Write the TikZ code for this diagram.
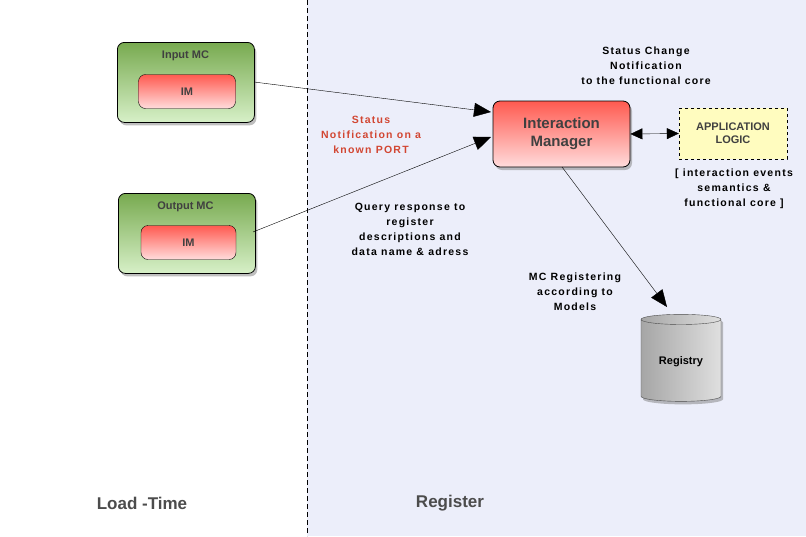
\documentclass[tikz,border=0pt]{standalone}
\usepackage{fontspec}
\setmainfont{Liberation Sans}
\newfontfamily\spaced[LetterSpace=12]{Liberation Sans}
\usetikzlibrary{shapes.geometric,arrows.meta,shadows}
\definecolor{lav}{RGB}{236,238,250}
\definecolor{gtop}{RGB}{120,170,80}
\definecolor{gbot}{RGB}{215,240,200}
\definecolor{rtop}{RGB}{255,90,80}
\definecolor{rbot}{RGB}{255,220,220}
\definecolor{redtxt}{RGB}{210,70,50}
\tikzset{
 mc/.style={draw,thick,rounded corners=7pt,top color=gtop,bottom color=gbot,drop shadow={opacity=0.5,shadow xshift=2pt,shadow yshift=-3pt},minimum width=137pt,minimum height=80pt,anchor=north west},
 im/.style={draw,rounded corners=7pt,top color=rtop,bottom color=rbot,font=\bfseries\fontsize{11}{13}\selectfont,text=black!75},
 lbl/.style={font=\spaced\bfseries\fontsize{10.5}{15}\selectfont,align=center,inner sep=0pt},
 arr/.style={-{Triangle[length=17pt,width=14pt]}}
}
\begin{document}
\begin{tikzpicture}[x=1pt,y=-1pt]
\fill[white] (0,0) rectangle (307,536);
\fill[lav] (307,0) rectangle (806,536);
\useasboundingbox (0,0) rectangle (806,536);
\draw[thick,dash pattern=on 5pt off 3pt] (307,0) -- (307,536);
\node[mc] (in) at (117,42) {};
\node[font=\bfseries\fontsize{11}{13}\selectfont,text=black!75] at (185.5,56) {Input MC};
\node[im,minimum width=97pt,minimum height=34pt] (imi) at (187,91.5) {IM};
\node[mc] (out) at (118,193) {};
\node[font=\bfseries\fontsize{11}{13}\selectfont,text=black!75] at (185.5,207) {Output MC};
\node[im,minimum width=95pt,minimum height=34pt] (imo) at (188.5,242.5) {IM};
\node[im,thick,font=\bfseries\fontsize{15}{18}\selectfont,minimum width=137pt,minimum height=66pt,align=center,drop shadow={opacity=0.5,shadow xshift=2pt,shadow yshift=-3pt}] (mgr) at (561.5,134) {Interaction\\Manager};
\node[draw,dashed,fill=yellow!25,font=\bfseries\fontsize{11}{13}\selectfont,text=black!75,minimum width=108pt,minimum height=51pt,inner sep=2pt,align=center] (app) at (733,133.5) {APPLICATION\\LOGIC};
\node[cylinder,shape border rotate=90,aspect=0.2,draw=gray!60!black,left color=gray!70,right color=gray!25,minimum width=80pt,minimum height=87pt,font=\bfseries\fontsize{11}{13}\selectfont,drop shadow={opacity=0.5,shadow xshift=2pt,shadow yshift=-3pt}] (reg) at (681,361.5) {Registry};
\coordinate (s1) at (254,82);
\coordinate (s2) at (253,232);
\coordinate (a1) at (491,112);
\coordinate (a2) at (491,137);
\coordinate (s3) at (562,167);
\coordinate (e3) at (667,307);
\draw[arr] (s1) -- (a1);
\draw[arr] (s2) -- (a2);
\draw[{Triangle[length=12pt,width=11pt]}-{Triangle[length=12pt,width=11pt]}] (mgr.east) -- (app.west);
\draw[arr] (s3) -- (e3);
\node[lbl,text=redtxt] at (371,135) {Status\\Notification on a\\known PORT};
\node[lbl] at (410,229) {Query response to\\register\\descriptions and\\data name \& adress};
\node[lbl] at (646,66) {Status Change\\Notification\\to the functional core};
\node[lbl] at (734,189) {[ interaction events\\semantics \&\\functional core ]};
\node[lbl] at (575,292) {MC Registering\\according to\\Models};
\node[font=\bfseries\fontsize{17}{20}\selectfont,text=black!70] at (142,503) {Load -Time};
\node[font=\bfseries\fontsize{17}{20}\selectfont,text=black!70] at (450,503) {Register};
\end{tikzpicture}
\end{document}
